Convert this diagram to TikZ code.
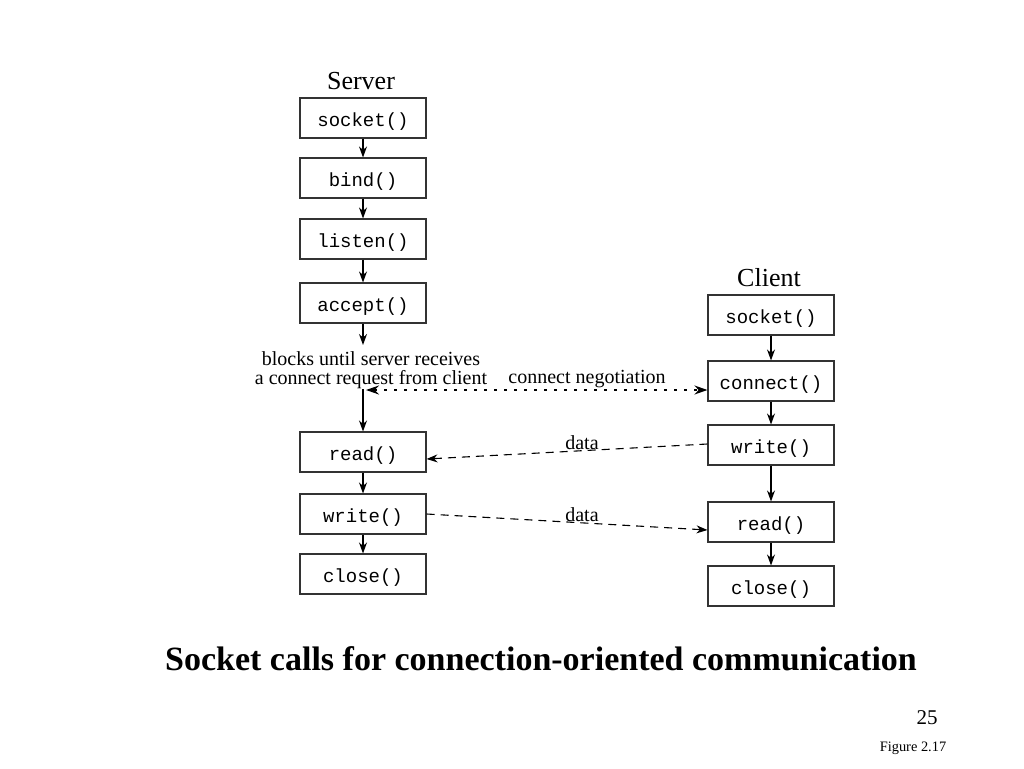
\documentclass[tikz,border=0pt]{standalone}
\usepackage{fontspec}
\setmainfont{Liberation Serif}
\setmonofont{Liberation Mono}
\usetikzlibrary{arrows.meta}
\begin{document}
\begin{tikzpicture}[x=1pt,y=-1pt,
  callbox/.style={draw=black!80,line width=1.1pt,minimum width=126pt,minimum height=40pt,inner sep=0pt,text height=17pt,text depth=0pt,font=\ttfamily\fontsize{19}{19}\selectfont},
  flow/.style={-{Stealth[length=11pt,width=8pt]},line width=1.1pt},
  dataflow/.style={-{Stealth[length=11pt,width=8pt]},line width=1.1pt,dash pattern=on 8pt off 6pt},
  negflow/.style={{Stealth[length=13pt,width=9pt]}-{Stealth[length=13pt,width=9pt]},line width=1.6pt,dash pattern=on 3pt off 7pt},
  lbl/.style={font=\fontsize{20}{19}\selectfont,inner sep=0pt},
  head/.style={font=\fontsize{26}{26}\selectfont,inner sep=0pt}]
\useasboundingbox (0,0) rectangle (1024,768);
\fill[white] (0,0) rectangle (1024,768);
% Server
\node[head] (server) at (361,81) {Server};
\node[callbox] (ssock) at (363,118) {socket()};
\node[callbox] (sbind) at (363,178) {bind()};
\node[callbox] (slist) at (363,239) {listen()};
\node[callbox] (sacc) at (363,303) {accept()};
\coordinate (sblk1) at (363,345);
\node[lbl,align=center] (blocks) at (371,370) {blocks until server receives\\a connect request from client};
\coordinate (sblk2) at (363,389);
\node[callbox] (sread) at (363,452) {read()};
\node[callbox] (swrite) at (363,514) {write()};
\node[callbox] (sclose) at (363,574) {close()};
% Client
\node[head] (client) at (769,278) {Client};
\node[callbox] (csock) at (771,315) {socket()};
\node[callbox] (cconn) at (771,381) {connect()};
\node[callbox] (cwrite) at (771,445) {write()};
\node[callbox] (cread) at (771,522) {read()};
\node[callbox] (cclose) at (771,586) {close()};
% flow arrows
\draw[flow] (ssock.south) -- (sbind.north);
\draw[flow] (sbind.south) -- (slist.north);
\draw[flow] (slist.south) -- (sacc.north);
\draw[flow] (sacc.south) -- (sblk1);
\draw[flow] (sblk2) -- (sread.north);
\draw[flow] (sread.south) -- (swrite.north);
\draw[flow] (swrite.south) -- (sclose.north);
\draw[flow] (csock.south) -- (cconn.north);
\draw[flow] (cconn.south) -- (cwrite.north);
\draw[flow] (cwrite.south) -- (cread.north);
\draw[flow] (cread.south) -- (cclose.north);
% negotiation
\coordinate (negL) at (366,390);
\coordinate (negR) at ([yshift=-9pt]cconn.west);
\draw[negflow] (negL) -- (negR);
\node[lbl] (neglbl) at (587,379) {connect negotiation};
% data
\draw[dataflow] ([yshift=1pt]cwrite.west) -- ([yshift=-7pt]sread.east);
\node[lbl] (data1) at (582,443) {data};
\draw[dataflow] (swrite.east) -- ([yshift=-8pt]cread.west);
\node[lbl] (data2) at (582,515) {data};
% title
\node[font=\bfseries\fontsize{34}{34}\selectfont,inner sep=0pt] (title) at (541,659) {Socket calls for connection-oriented communication};
\node[font=\fontsize{21}{21}\selectfont,inner sep=0pt] (pgnum) at (927,718) {25};
\node[font=\fontsize{14.4}{14.4}\selectfont,inner sep=0pt] (fig) at (913,748) {Figure 2.17};
\end{tikzpicture}
\end{document}
